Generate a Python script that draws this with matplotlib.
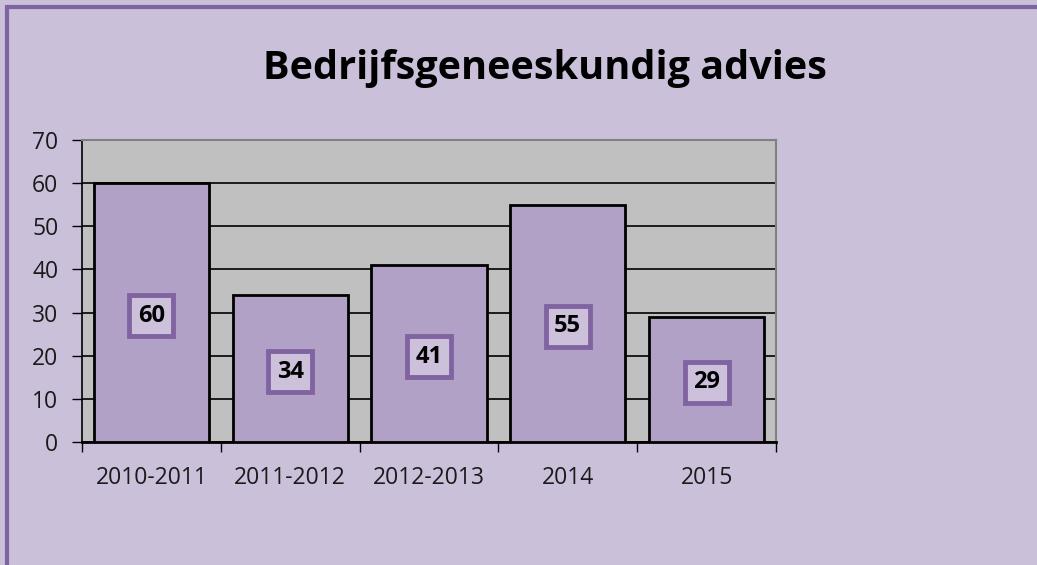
import matplotlib
matplotlib.use("Agg")
import matplotlib.pyplot as plt
from matplotlib.lines import Line2D

categories = ["2010-2011", "2011-2012", "2012-2013", "2014", "2015"]
values = [60, 34, 41, 55, 29]
yticks = [0, 10, 20, 30, 40, 50, 60, 70]
title = "Bedrijfsgeneeskundig advies"

W, H = 1037, 565
fig = plt.figure(figsize=(W / 100, H / 100), dpi=100)
fig.patch.set_facecolor("#CBC0DA")

# outer frame lines (top and left)
fig.add_artist(Line2D([5 / W, 1], [1 - 6.5 / H, 1 - 6.5 / H], transform=fig.transFigure,
                      color="#8064A2", lw=3, solid_capstyle="butt"))
fig.add_artist(Line2D([7 / W, 7 / W], [0, 1 - 5 / H], transform=fig.transFigure,
                      color="#8064A2", lw=3, solid_capstyle="butt"))

ax = fig.add_axes([82 / W, 1 - 442 / H, (776 - 82) / W, (442 - 140) / H])
ax.set_facecolor("#C0C0C0")

x = list(range(len(categories)))
ax.set_axisbelow(True)
ax.yaxis.grid(True, color="black", lw=1.2)
bars = ax.bar(x, values, width=0.83, color="#B2A1C7", edgecolor="black", linewidth=2, zorder=3)

ax.set_xlim(-0.5, len(categories) - 0.5)
ax.set_ylim(0, 70)
ax.set_yticks(yticks)
ax.set_xticks(x)
ax.set_xticklabels(categories)
ax.set_xticks([i - 0.5 for i in range(len(categories) + 1)], minor=True)
ax.tick_params(axis="x", which="major", length=0, pad=17)
ax.tick_params(axis="x", which="minor", length=7, direction="out", width=1)
ax.tick_params(axis="y", length=7, direction="out", width=1, pad=10)
for lab in ax.get_xticklabels() + ax.get_yticklabels():
    lab.set_fontfamily("Open Sans")
    lab.set_fontsize(16.5)
    lab.set_color("#1a1a1a")

for s in ["top", "right"]:
    ax.spines[s].set_color("#808080")
    ax.spines[s].set_linewidth(1.5)
ax.spines["left"].set_color("black")
ax.spines["bottom"].set_color("black")
ax.spines["left"].set_linewidth(1.2)
ax.spines["bottom"].set_linewidth(2)

for xi, v in zip(x, values):
    ax.text(xi, v / 2, str(v), ha="center", va="center_baseline", fontsize=17, fontweight="bold",
            fontfamily="Open Sans", color="black", zorder=5,
            bbox=dict(boxstyle="square,pad=0.36", fc="#CCC0DA", ec="#8064A2", lw=3.5))

fig.text(545 / W, 1 - 68 / H, title, ha="center", va="center", fontsize=28.5,
         fontweight="bold", fontfamily="Open Sans", color="black")

fig.savefig("out.png", dpi=100, facecolor=fig.get_facecolor())
